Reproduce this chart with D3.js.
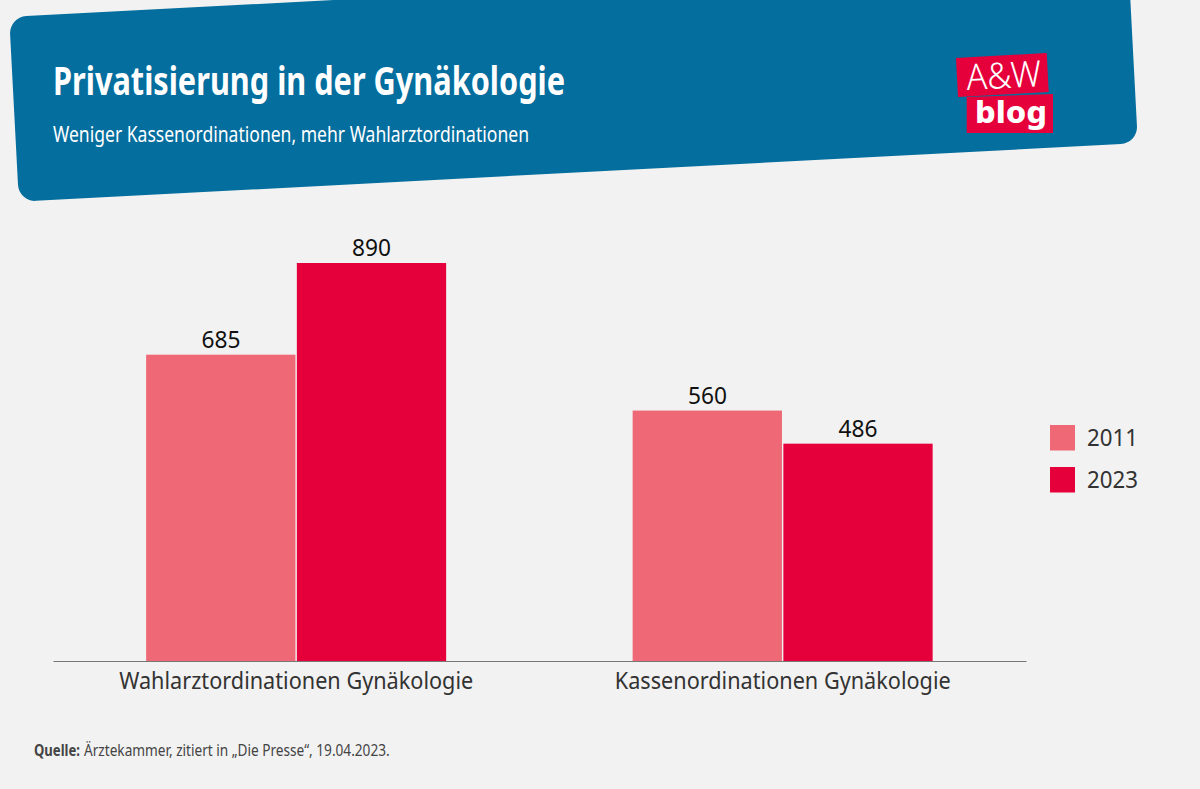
<!DOCTYPE html>
<html><head><meta charset="utf-8">
<script src="https://cdn.jsdelivr.net/npm/d3@7"></script>
<style>
html,body{margin:0;padding:0;background:#f2f2f2}
svg{display:block}
text{font-family:"Noto Sans",sans-serif}
</style></head><body><svg id="c" width="1200" height="789"></svg>
<script>
const categories = ["Wahlarztordinationen Gynäkologie", "Kassenordinationen Gynäkologie"];
const years = ["2011", "2023"];
const values2011 = [685, 560];
const values2023 = [890, 486];
const colors = ["#ee6876", "#e6003b"];
const titleText = "Privatisierung in der Gynäkologie";
const subtitleText = "Weniger Kassenordinationen, mehr Wahlarztordinationen";

const svg = d3.select("#c");
const series = [values2011, values2023];
const fit = (sel, w) => sel.attr("textLength", w).attr("lengthAdjust", "spacingAndGlyphs");
const squeeze = (sel, x, yy, w) => {
  const len = sel.node().getComputedTextLength();
  sel.attr("transform", `translate(${x},${yy}) scale(${w / len},1)`);
};

// header
svg.append("rect").attr("width", 1120.5).attr("height", 185).attr("rx", 17)
  .attr("transform", "translate(9.2,17) rotate(-3)").attr("fill", "#046e9e");
svg.append("text").text(titleText).attr("x", 53).attr("y", 95)
  .attr("font-size", 40).attr("font-weight", 700).attr("fill", "#fff").call(fit, 512);
svg.append("text").text(subtitleText).attr("x", 53).attr("y", 142)
  .attr("font-size", 22).attr("fill", "#fff").call(fit, 476);

// logo
svg.append("path").attr("d", d3.line()([[956,58],[1046.7,53],[1048.7,92],[958,97]])).attr("fill", "#e6003b");
svg.append("path").attr("d", d3.line()([[966.7,97],[1053,94],[1053,133],[966.7,133]])).attr("fill", "#e6003b");
svg.append("text").text("A&W").attr("transform", "translate(967,90) rotate(-3)")
  .attr("font-size", 36).attr("font-family", "Lato").attr("font-weight", 300).attr("fill", "#fff").call(fit, 75);
svg.append("text").text("blog").attr("x", 975).attr("y", 123)
  .attr("font-size", 31).attr("font-family", "Open Sans").attr("font-weight", 800).attr("fill", "#fff").call(fit, 72);

// scales
const x0 = d3.scaleBand().domain(categories).range([53, 1026]);
const x1 = d3.scaleBand().domain(years).range([x0.bandwidth()/2 - 150.7, x0.bandwidth()/2 + 150.7]);
const y = d3.scaleLinear().domain([0, 890]).range([661, 263]);

// bars
const g = svg.selectAll("g.grp").data(categories).join("g").attr("class", "grp")
  .attr("transform", d => `translate(${x0(d)},0)`);
years.forEach((yr, s) => {
  g.append("rect").attr("x", x1(yr) + 0.6).attr("width", x1.bandwidth() - 1.4)
    .attr("y", (d, i) => y(series[s][i])).attr("height", (d, i) => y(0) - y(series[s][i]))
    .attr("fill", colors[s]);
  g.append("text").attr("x", x1(yr) + x1.bandwidth()/2).attr("y", (d, i) => y(series[s][i]) - 7)
    .attr("text-anchor", "middle").attr("font-size", 23).attr("fill", "#111")
    .text((d, i) => series[s][i]).call(fit, 39);
});

// axis
const axis = svg.append("g").attr("transform", "translate(0,661)")
  .call(d3.axisBottom(x0).tickSize(0).tickPadding(10));
axis.select(".domain").attr("stroke", "#777").attr("stroke-width", 1.2);
axis.selectAll("text").attr("font-size", 23).attr("font-family", '"Noto Sans"').attr("fill", "#333")
  .attr("dy", "0.8em")
  .each(function(d, i) { d3.select(this).call(fit, [354, 336][i]); });

// legend
const leg = svg.selectAll("g.leg").data(years).join("g").attr("class", "leg")
  .attr("transform", (d, i) => `translate(1050,${425 + i * 42})`);
leg.append("rect").attr("width", 25).attr("height", 25.5).attr("fill", (d, i) => colors[i]);
leg.append("text").text(d => d).attr("x", 37).attr("y", 21)
  .attr("font-size", 23).attr("fill", "#333").call(fit, 51);

// source
svg.append("text").text("Quelle:").attr("font-size", 16.5)
  .attr("font-weight", 700).attr("fill", "#444").call(squeeze, 34, 756, 46);
svg.append("text").text("Ärztekammer, zitiert in „Die Presse“, 19.04.2023.")
  .attr("font-size", 16.5).attr("fill", "#444").call(squeeze, 84, 756, 306);
</script></body></html>
